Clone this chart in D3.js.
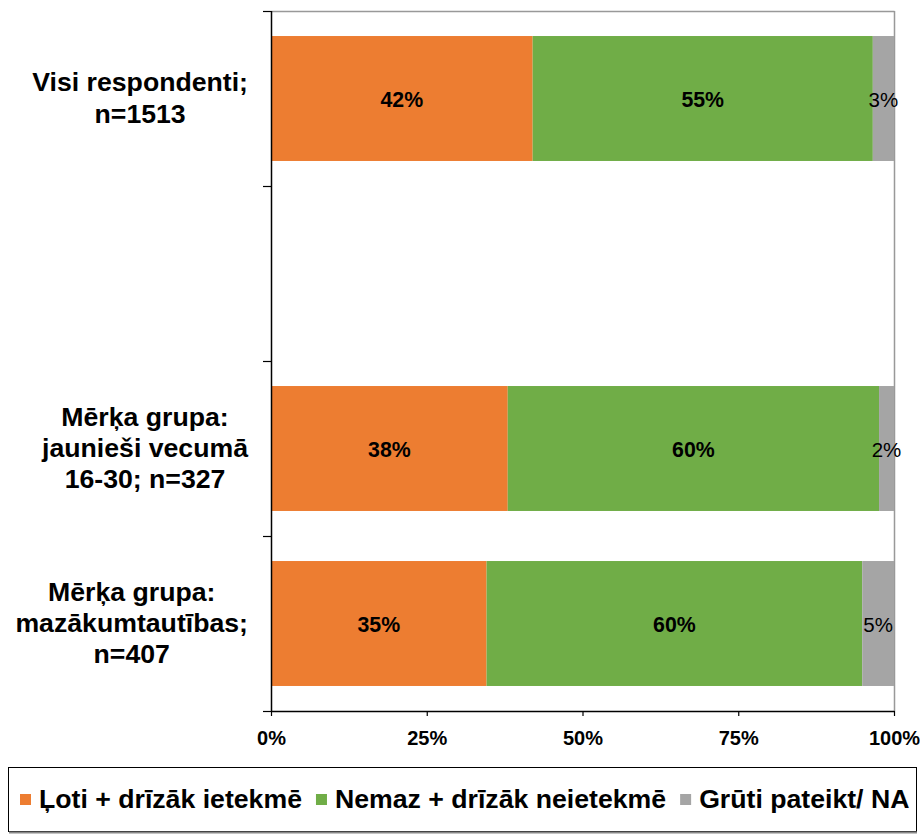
<!DOCTYPE html>
<html>
<head>
<meta charset="utf-8">
<script src="https://cdn.jsdelivr.net/npm/d3@7"></script>
<style>
  html, body { margin: 0; padding: 0; background: #fff; }
  svg { display: block; font-family: "Liberation Sans", Arial, sans-serif; }
</style>
</head>
<body>
<svg id="chart" width="920" height="835"></svg>
<script>
// ---- data ----
const categories = [
  "Visi respondenti;\nn=1513",
  "",
  "Mērķa grupa:\njaunieši vecumā\n16-30; n=327",
  "Mērķa grupa:\nmazākumtautības;\nn=407"
];
const seriesNames = ["Ļoti + drīzāk ietekmē", "Nemaz + drīzāk neietekmē", "Grūti pateikt/ NA"];
const seriesColors = ["#ED7D31", "#70AD47", "#A5A5A5"];
const lotiValues  = [42.0, null, 38.0, 34.6];
const nemazValues = [54.6, null, 59.6, 60.3];
const grutiValues = [3.4,  null, 2.4,  5.1];
const xTicks = [0, 25, 50, 75, 100];

// ---- layout ----
const svg = d3.select("#chart");
const plotLeft = 271, plotRight = 894, plotTop = 11, plotBottom = 711;

const x = d3.scaleLinear().domain([0, 100]).range([plotLeft, plotRight]);
const y = d3.scaleBand().domain(d3.range(categories.length)).range([plotTop, plotBottom])
  .paddingInner(0.286).paddingOuter(0.143);

const rows = categories.map((c, i) => ({ i, cat: c, vals: [lotiValues[i], nemazValues[i], grutiValues[i]] }))
  .filter(r => r.vals[0] != null);

const stacked = [];
rows.forEach(r => {
  let acc = 0;
  r.vals.forEach((v, s) => {
    stacked.push({ i: r.i, s, v, x0: acc, x1: acc + v });
    acc += v;
  });
});

// plot area border (top & right gray)
svg.append("line").attr("x1", plotLeft).attr("x2", plotRight + 0.5).attr("y1", plotTop + 0.5).attr("y2", plotTop + 0.5)
  .attr("stroke", "#999").attr("stroke-width", 1.5);
svg.append("line").attr("x1", plotRight + 0.5).attr("x2", plotRight + 0.5).attr("y1", plotTop).attr("y2", plotBottom)
  .attr("stroke", "#999").attr("stroke-width", 1.5);

// bars
svg.append("g").selectAll("rect").data(stacked).join("rect")
  .attr("x", d => x(d.x0))
  .attr("y", d => y(d.i))
  .attr("width", d => x(d.x1) - x(d.x0))
  .attr("height", y.bandwidth())
  .attr("fill", d => seriesColors[d.s]);

// bar labels
const fmt = d3.format(".0%");
svg.append("g").selectAll("text").data(stacked).join("text")
  .attr("x", d => (x(d.x0) + x(d.x1)) / 2)
  .attr("y", d => y(d.i) + y.bandwidth() / 2 + 8.5)
  .attr("text-anchor", "middle")
  .attr("font-size", d => d.s === 2 ? "20.5px" : "21.3px")
  .attr("font-weight", d => d.s === 2 ? "normal" : "bold")
  .attr("fill", "#000")
  .text(d => fmt(d.v / 100));

// y axis (left)
const yAxis = svg.append("g");
yAxis.append("line").attr("x1", plotLeft + 0.5).attr("x2", plotLeft + 0.5).attr("y1", plotTop).attr("y2", plotBottom)
  .attr("stroke", "#000").attr("stroke-width", 1.5);
const boundaries = d3.range(categories.length + 1).map(k => plotTop + k * y.step());
yAxis.selectAll("line.tick").data(boundaries).join("line").attr("class", "tick")
  .attr("x1", plotLeft - 8).attr("x2", plotLeft).attr("y1", d => d + 0.5).attr("y2", d => d + 0.5)
  .attr("stroke", "#000").attr("stroke-width", 1.2);

// category labels: lines centered in a block right-aligned at x=248
const catG = svg.append("g").attr("font-size", "26.67px").attr("font-weight", "bold").attr("fill", "#000");
categories.forEach((c, i) => {
  if (!c) return;
  const lines = c.split("\n");
  const g = catG.append("g");
  const texts = lines.map((ln, k) => g.append("text")
    .attr("text-anchor", "middle")
    .attr("y", y(i) + y.bandwidth() / 2 + (k - (lines.length - 1) / 2) * 31.2 + 8.5)
    .text(ln));
  const maxW = d3.max(texts, t => t.node().getComputedTextLength());
  texts.forEach(t => t.attr("x", 248 - maxW / 2));
});

// x axis (bottom)
const xAxisG = svg.append("g").attr("transform", `translate(0,${plotBottom})`)
  .call(d3.axisBottom(x).tickValues(xTicks).tickFormat(d => d + "%").tickSize(5).tickSizeOuter(0));
xAxisG.select(".domain").attr("stroke", "#000").attr("stroke-width", 1.5);
xAxisG.selectAll(".tick line").attr("stroke", "#000").attr("stroke-width", 1.2);
xAxisG.selectAll(".tick text").attr("font-size", "20px").attr("font-weight", "bold")
  .attr("font-family", "Liberation Sans, Arial, sans-serif").attr("fill", "#000")
  .attr("dy", 0).attr("y", 34);

// legend
const lg = svg.append("g");
lg.append("rect").attr("x", 8.5).attr("y", 767.5).attr("width", 908).attr("height", 64)
  .attr("fill", "#fff").attr("stroke", "#000").attr("stroke-width", 1);
lg.append("line").attr("x1", 9).attr("x2", 917).attr("y1", 832.5).attr("y2", 832.5)
  .attr("stroke", "#888").attr("stroke-width", 2);
let lx = 20;
seriesNames.forEach((name, s) => {
  lg.append("rect").attr("x", lx).attr("y", 794).attr("width", 11).attr("height", 11)
    .attr("fill", seriesColors[s]);
  const t = lg.append("text").attr("x", lx + 19).attr("y", 808)
    .attr("font-size", "26.67px").attr("font-weight", "bold").attr("fill", "#000").text(name);
  lx = lx + 19 + t.node().getComputedTextLength() + 14;
});
</script>
</body>
</html>
